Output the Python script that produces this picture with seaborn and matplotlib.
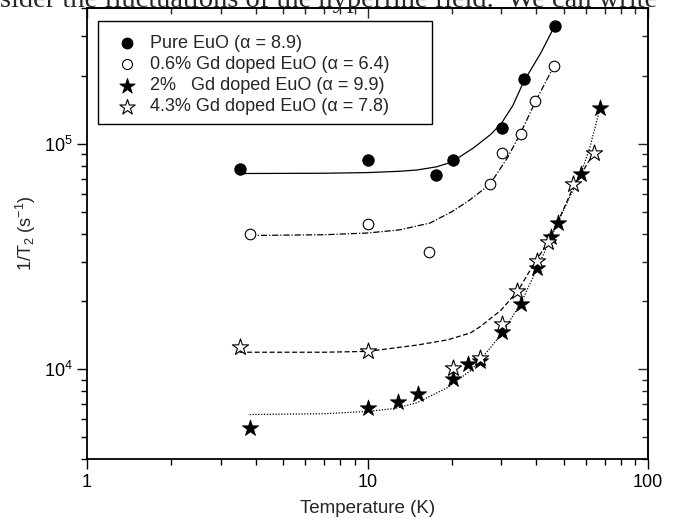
import numpy as np
import pandas as pd
import matplotlib
matplotlib.use("Agg")
import matplotlib.pyplot as plt
import seaborn as sns
from matplotlib.patches import Rectangle
from matplotlib.ticker import LogLocator, NullFormatter

# ── measured points (temperature in K, 1/T2 in s^-1) ─────────────────
PURE_T = [3.5, 10.0, 17.6, 20.1, 30.1, 36.1, 46.5]
PURE_R = [7.75e4, 8.5e4, 7.3e4, 8.45e4, 1.18e5, 1.94e5, 3.33e5]

GD06_T = [3.8, 10.0, 16.5, 27.3, 30.1, 35.2, 39.7, 46.3]
GD06_R = [3.96e4, 4.43e4, 3.3e4, 6.6e4, 9.1e4, 1.11e5, 1.55e5, 2.21e5]

GD2_T = [3.8, 10.0, 12.8, 15.1, 20.1, 22.8, 25.1, 30.1, 35.2, 40.1, 45.1, 47.7, 57.6, 67.4]
GD2_R = [5.48e3, 6.7e3, 7.14e3, 7.75e3, 9.1e3, 1.05e4, 1.09e4, 1.46e4, 1.94e4,
         2.81e4, 3.86e4, 4.45e4, 7.36e4, 1.44e5]

GD43_T = [3.5, 10.0, 20.1, 25.1, 30.1, 34.2, 40.1, 43.9, 54.2, 64.1]
GD43_R = [1.25e4, 1.21e4, 1.01e4, 1.12e4, 1.59e4, 2.22e4, 3.01e4, 3.68e4, 6.65e4, 9.1e4]

# ── fitted curves ────────────────────────────────────────────────────
FIT_PURE_T = [3.5, 7.0, 10.0, 13.0, 15.0, 17.6, 20.0, 23.9, 27.5, 30.0, 33.0, 36.0, 41.5, 46.5]
FIT_PURE_R = [7.38e4, 7.4e4, 7.45e4, 7.55e4, 7.65e4, 7.9e4, 8.3e4, 9.6e4, 1.1e5, 1.23e5,
              1.48e5, 1.88e5, 2.53e5, 3.33e5]

FIT_GD06_T = [3.8, 7.0, 10.0, 13.0, 16.7, 20.0, 23.0, 27.3, 31.6, 35.2, 39.8, 46.2]
FIT_GD06_R = [3.92e4, 3.95e4, 4.02e4, 4.15e4, 4.45e4, 5.0e4, 5.6e4, 6.6e4, 8.7e4,
              1.12e5, 1.55e5, 2.21e5]

FIT_GD2_T = [3.8, 7.0, 10.0, 12.5, 15.0, 19.3, 23.4, 27.5, 30.3, 35.2, 40.4, 45.1, 50.1,
             57.6, 62.0, 67.4]
FIT_GD2_R = [6.3e3, 6.35e3, 6.5e3, 6.7e3, 7.1e3, 8.3e3, 9.9e3, 1.25e4, 1.46e4, 1.96e4,
             2.83e4, 3.84e4, 5.1e4, 7.36e4, 9.6e4, 1.43e5]

FIT_GD43_T = [3.5, 7.0, 10.0, 15.0, 19.3, 23.3, 25.3, 29.8, 34.3, 39.0, 43.9, 47.7, 54.4, 64.1]
FIT_GD43_R = [1.19e4, 1.19e4, 1.2e4, 1.28e4, 1.35e4, 1.45e4, 1.55e4, 1.82e4, 2.22e4,
              2.9e4, 3.65e4, 4.5e4, 6.5e4, 9.1e4]

LABELS = ["Pure EuO (\u03b1 = 8.9)",
          "0.6% Gd doped EuO (\u03b1 = 6.4)",
          "2%   Gd doped EuO (\u03b1 = 9.9)",
          "4.3% Gd doped EuO (\u03b1 = 7.8)"]

TOP_TEXT = "sider the fluctuations of the hyperfine field.  We can write"

sns.set_style("ticks")
plt.rcParams["font.family"] = ["Liberation Sans", "DejaVu Sans"]
plt.rcParams["mathtext.fontset"] = "custom"
plt.rcParams["mathtext.rm"] = "Liberation Sans"
plt.rcParams["mathtext.it"] = "Liberation Sans:italic"

W, H = 678, 523
fig = plt.figure(figsize=(W/100, H/100), dpi=100)
ax = fig.add_axes([87/W, 1-459/H, 561/W, 451/H])

# curves
fits = [(FIT_PURE_T, FIT_PURE_R, "-"),
        (FIT_GD06_T, FIT_GD06_R, (0, (5, 1.5, 1, 1.5))),
        (FIT_GD2_T, FIT_GD2_R, (0, (1, 1.3))),
        (FIT_GD43_T, FIT_GD43_R, (0, (4, 2)))]
for t, r, ls in fits:
    sns.lineplot(x=t, y=r, ax=ax, color="black", lw=0.9, linestyle=ls,
                 sort=False, estimator=None)

# points
series = [(PURE_T, PURE_R, "o", "black", 66, 0.8),
          (GD06_T, GD06_R, "o", "white", 58, 0.8),
          (GD2_T, GD2_R, "*", "black", 150, 0.6),
          (GD43_T, GD43_R, "*", "white", 150, 0.8)]
handles = []
for (t, r, mk, fc, s, lw), lab in zip(series, LABELS):
    sns.scatterplot(x=t, y=r, ax=ax, marker=mk, s=s, color=fc, edgecolor="black",
                    linewidth=lw, zorder=5)
    handles.append(plt.scatter([], [], marker=mk, s=s*0.9, c=fc, edgecolors="black",
                               linewidths=lw, label=lab))

ax.set_xscale("log"); ax.set_yscale("log")
ax.set_xlim(1, 100); ax.set_ylim(4000, 4e5)
xmaj = [1, 10, 100]
ax.set_xticks(xmaj); ax.set_xticklabels(["1", "10", "100"])
ax.xaxis.set_minor_locator(LogLocator(base=10, subs=np.arange(2, 10)))
ax.xaxis.set_minor_formatter(NullFormatter())
ax.yaxis.set_minor_locator(LogLocator(base=10, subs=np.arange(2, 10)))
ax.yaxis.set_minor_formatter(NullFormatter())

ax.set_xlabel("Temperature (K)", fontsize=13.5, labelpad=7)
ax.set_ylabel("1/T$_2$ (s$^{-1}$)", fontsize=13, labelpad=4)

for sp in ax.spines.values():
    sp.set_visible(True); sp.set_linewidth(1.3); sp.set_color("black")
ax.tick_params(which="both", direction="out", colors="black", labelsize=13, width=1.0,
               top=False, right=False)
ax.tick_params(which="major", length=7)
ax.tick_params(which="minor", length=4.5)
ax.grid(False)

# top and right ticks point inwards
top = ax.secondary_xaxis("top")
top.set_xticks(xmaj)
top.xaxis.set_minor_locator(LogLocator(base=10, subs=np.arange(2, 10)))
right = ax.secondary_yaxis("right")
right.yaxis.set_major_locator(LogLocator(base=10))
right.yaxis.set_minor_locator(LogLocator(base=10, subs=np.arange(2, 10)))
for sec in (top, right):
    sec.tick_params(which="both", direction="in", width=1.0, labelleft=False,
                    labelright=False, labeltop=False, labelbottom=False)
    sec.tick_params(which="major", length=7)
    sec.tick_params(which="minor", length=4.5)
    for sp in sec.spines.values():
        sp.set_linewidth(1.3)

# legend: frame drawn as its own box
ax.add_patch(Rectangle(((98-87)/561, (459-124)/451), (432-98)/561, (124-21)/451,
                       transform=ax.transAxes, fill=False, edgecolor="black", lw=1.0,
                       zorder=6))
leg = ax.legend(handles=handles, loc="upper left",
                bbox_to_anchor=((117-87)/561, (459-35)/451),
                fontsize=13, frameon=False, borderaxespad=0, borderpad=0,
                handletextpad=0.72, labelspacing=0.23, scatterpoints=1,
                handlelength=1.1)

fig.text(0.0, 1-7/H, TOP_TEXT, family="Liberation Serif", fontsize=20.5,
         ha="left", va="baseline")

fig.savefig("out.png", dpi=100, facecolor="white")
